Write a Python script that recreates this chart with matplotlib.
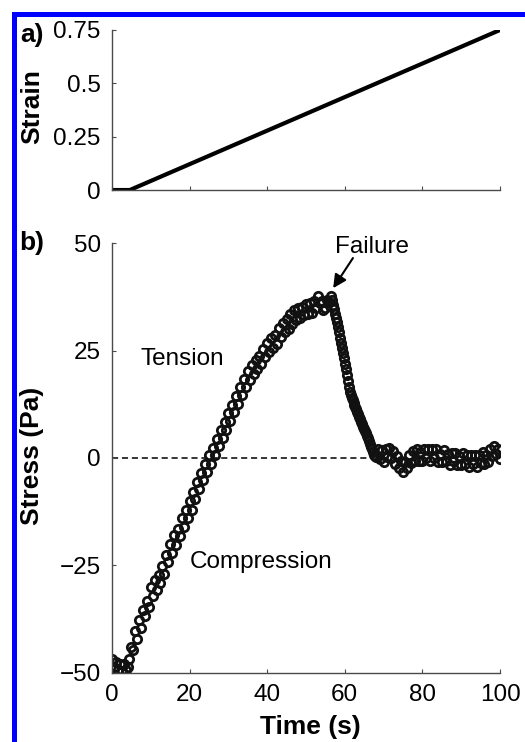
import matplotlib
matplotlib.use("Agg")
import matplotlib.pyplot as plt
from matplotlib.patches import Rectangle

plt.rcParams['font.family'] = ['Liberation Sans', 'DejaVu Sans']

# (a) applied strain ramp
strain_time = [0, 4.6, 100]
strain = [0, 0, 0.75]

# (b) measured stress, open circles
time_s = [
    0.0, 0.5, 1.0, 1.5, 2.0, 2.5, 3.0, 3.5, 4.0, 4.5,
    5.0, 5.5, 6.0, 6.5, 7.0, 7.5, 8.0, 8.5, 9.0, 9.5,
    10.0, 10.5, 11.0, 11.5, 12.0, 12.5, 13.0, 13.5, 14.0, 14.5,
    15.0, 15.5, 16.0, 16.5, 17.0, 17.5, 18.0, 18.5, 19.0, 19.5,
    20.0, 20.5, 21.0, 21.5, 22.0, 22.5, 23.0, 23.5, 24.0, 24.5,
    25.0, 25.5, 26.0, 26.5, 27.0, 27.5, 28.0, 28.5, 29.0, 29.5,
    30.0, 30.5, 31.0, 31.5, 32.0, 32.5, 33.0, 33.5, 34.0, 34.5,
    35.0, 35.5, 36.0, 36.5, 37.0, 37.5, 38.0, 38.5, 39.0, 39.5,
    40.0, 40.5, 41.0, 41.5, 42.0, 42.5, 43.0, 43.5, 44.0, 44.5,
    45.0, 45.5, 46.0, 46.5, 47.0, 47.5, 48.0, 48.5, 49.0, 49.5,
    50.0, 50.5, 51.0, 51.5, 52.0, 52.5, 53.0, 53.5, 54.0, 54.5,
    55.0, 55.5, 56.0, 56.5,
    56.75, 57.0, 57.25, 57.5, 57.75, 58.0, 58.25, 58.5, 58.75, 59.0,
    59.25, 59.5, 59.75, 60.0, 60.25, 60.5, 60.75, 61.0, 61.25, 61.5,
    61.75, 62.0, 62.25, 62.5, 62.75, 63.0, 63.25, 63.5, 63.75, 64.0,
    64.25, 64.5, 64.75, 65.0, 65.25, 65.5, 65.75, 66.0, 66.25, 66.5,
    66.75, 67.0, 67.25, 67.5, 67.75, 68.0,
    68.5, 69.0, 69.5, 70.0, 70.5, 71.0, 71.5, 72.0, 72.5, 73.0,
    73.5, 74.0, 74.5, 75.0, 75.5, 76.0, 76.5, 77.0, 77.5, 78.0,
    78.5, 79.0, 79.5, 80.0, 80.5, 81.0, 81.5, 82.0, 82.5, 83.0,
    83.5, 84.0, 84.5, 85.0, 85.5, 86.0, 86.5, 87.0, 87.5, 88.0,
    88.5, 89.0, 89.5, 90.0, 90.5, 91.0, 91.5, 92.0, 92.5, 93.0,
    93.5, 94.0, 94.5, 95.0, 95.5, 96.0, 96.5, 97.0, 97.5, 98.0,
    98.5, 99.0, 99.5, 100.0,
]
stress_pa = [
    -46.8, -48.6, -47.4, -49.2, -48.0, -49.6, -47.8, -49.4, -48.6, -46.8,
    -44.0, -44.6, -40.2, -42.0, -37.6, -39.6, -35.4, -36.8, -33.2, -34.6,
    -30.0, -32.0, -28.4, -30.8, -27.2, -29.0, -25.2, -27.0, -22.6, -24.2,
    -20.0, -22.0, -18.0, -20.2, -16.4, -18.2, -14.0, -16.0, -12.0, -14.0,
    -10.0, -12.0, -7.8, -9.6, -5.6, -7.2, -3.4, -5.2, -1.4, -3.2,
    0.6, -1.4, 2.4, 0.6, 4.4, 2.8, 6.6, 4.6, 8.4, 6.6,
    10.4, 8.6, 12.4, 10.6, 14.4, 12.6, 16.4, 14.6, 18.4, 16.6,
    20.2, 18.2, 21.6, 19.6, 22.8, 20.6, 23.8, 21.8, 25.4, 23.4,
    26.8, 24.6, 27.8, 25.6, 28.6, 26.6, 30.2, 28.2, 31.4, 29.2,
    32.4, 30.0, 33.4, 31.2, 34.4, 32.2, 35.0, 32.6, 35.2, 33.2,
    35.8, 33.6, 36.0, 33.8, 36.4, 35.0, 37.6, 36.0, 36.4, 34.4,
    34.8, 36.8, 36.2, 37.6,
    36.8, 35.6, 34.6, 33.6, 32.6, 31.6, 30.4, 29.2, 28.0, 26.8,
    25.6, 24.4, 23.2, 21.9, 20.6, 19.2, 17.8, 16.4, 15.4, 14.7,
    14.0, 13.4, 12.8, 12.3, 11.8, 11.3, 10.8, 10.2, 9.6, 9.0,
    8.4, 7.9, 7.3, 6.8, 6.3, 5.8, 5.2, 4.7, 4.0, 3.3,
    2.6, 2.0, 1.4, 0.8, 0.4, 0.2,
    2.0, -0.2, 1.8, -1.0, 2.0, 0.2, 2.4, 0.0, 1.6, -1.4,
    0.4, -2.4, -0.8, -3.2, -1.0, -2.4, 0.6, -1.2, 1.6, -0.6,
    2.2, -0.6, 1.4, -0.6, 2.2, 0.0, 2.0, -0.8, 2.0, 0.0,
    2.0, -1.0, 1.0, -1.0, 1.8, -0.8, 1.0, -1.6, 1.2, -0.8,
    1.2, -1.6, 0.4, -1.6, 1.2, -1.4, 0.6, -2.2, 0.6, -1.4,
    0.8, -2.0, 0.8, -1.2, 1.4, -1.4, 0.8, -1.0, 2.2, 0.4,
    2.8, 1.0, 2.0, -0.2,
]

x_ticks = [0, 20, 40, 60, 80, 100]
strain_ticks = [0, 0.25, 0.5, 0.75]
strain_ticklabels = ['0', '0.25', '0.5', '0.75']
stress_ticks = [-50, -25, 0, 25, 50]
stress_ticklabels = ['\u221250', '\u221225', '0', '25', '50']

TICK_FS = 17.5
LABEL_FS = 19
spine_col = '#4a4a4a'


def style_axes(ax):
    for side in ('top', 'right'):
        ax.spines[side].set_visible(False)
    for side in ('left', 'bottom'):
        ax.spines[side].set_color(spine_col)
        ax.spines[side].set_linewidth(1.0)
    ax.tick_params(direction='in', length=3, width=0.8, color=spine_col,
                   labelsize=TICK_FS)
    ax.tick_params(axis='y', pad=8)
    ax.tick_params(axis='x', pad=8)
    ax.set_xlim(0, 100)
    ax.set_xticks(x_ticks)


fig = plt.figure(figsize=(5.25, 7.42), dpi=100)

# strain panel
ax1 = fig.add_axes([0.2133, 0.7439, 0.7391, 0.2157])
style_axes(ax1)
ax1.plot(strain_time, strain, color='black', linewidth=3.0, solid_capstyle='round')
ax1.set_ylim(0, 0.75)
ax1.set_yticks(strain_ticks)
ax1.set_yticklabels(strain_ticklabels)
ax1.set_xticklabels([])
ax1.set_ylabel('Strain', fontsize=LABEL_FS, fontweight='bold', va='center')
ax1.yaxis.set_label_coords(-0.205, 0.52)
ax1.text(-0.206, 0.97, 'a)', transform=ax1.transAxes, fontsize=LABEL_FS,
         fontweight='bold', ha='center', va='center')

# stress panel
ax2 = fig.add_axes([0.2133, 0.0930, 0.7391, 0.5795])
style_axes(ax2)
ax2.plot([0, 66], [0, 0], color='black', linestyle='--', linewidth=1.1,
         dashes=(4, 2.5), zorder=1)
ax2.plot(time_s, stress_pa, linestyle='none', marker='o', markersize=6.0,
         markerfacecolor='none', markeredgecolor='#111111',
         markeredgewidth=2.0, zorder=2)
ax2.set_ylim(-50, 50)
ax2.set_yticks(stress_ticks)
ax2.set_yticklabels(stress_ticklabels)
ax2.set_xlabel('Time (s)', fontsize=LABEL_FS, fontweight='bold', va='center')
ax2.xaxis.set_label_coords(0.51, -0.125)
ax2.set_ylabel('Stress (Pa)', fontsize=LABEL_FS, fontweight='bold', va='center')
ax2.yaxis.set_label_coords(-0.206, 0.505)
ax2.text(-0.206, 1.0, 'b)', transform=ax2.transAxes, fontsize=LABEL_FS,
         fontweight='bold', ha='center', va='center')

ax2.text(18.2, 23.1, 'Tension', fontsize=TICK_FS, ha='center', va='center')
ax2.text(38.4, -24.1, 'Compression', fontsize=TICK_FS, ha='center', va='center')
ax2.text(67.1, 49.1, 'Failure', fontsize=TICK_FS, ha='center', va='center')
ax2.annotate('', xy=(57.0, 39.5), xytext=(62.1, 46.5),
             arrowprops=dict(arrowstyle='-|>', color='black', lw=1.5,
                             mutation_scale=20, shrinkA=0, shrinkB=0))

# blue frame along the top and left edges
W, H = 525, 742
fig.add_artist(Rectangle((12 / W, 0), 5 / W, 1 - 12 / H, transform=fig.transFigure,
                         facecolor='#0000ff', edgecolor='none'))
fig.add_artist(Rectangle((12 / W, 1 - 17 / H), 1 - 12 / W, 5 / H, transform=fig.transFigure,
                         facecolor='#0000ff', edgecolor='none'))

fig.savefig('out.png', dpi=100)
